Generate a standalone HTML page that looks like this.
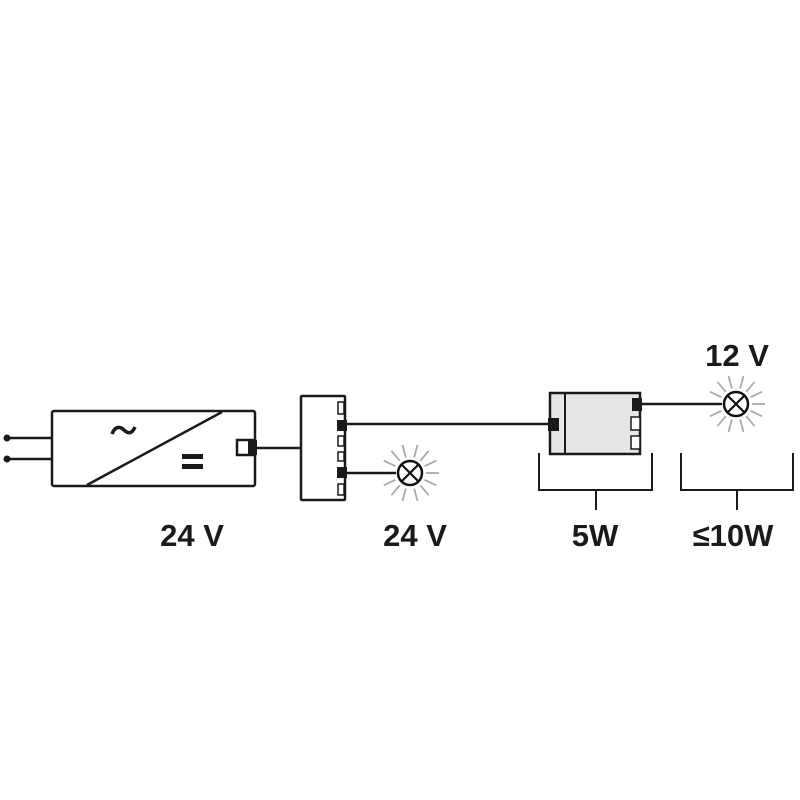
<!DOCTYPE html>
<html><head><style>body{margin:0;background:#fff}svg{display:block}</style></head>
<body>
<svg width="800" height="800" viewBox="0 0 800 800" xmlns="http://www.w3.org/2000/svg">
<defs>
<g id="lamp">
 <g stroke="#aaa" stroke-width="1.8">
  <line x1="16" y1="0" x2="29" y2="0" transform="rotate(0)"/>
  <line x1="16" y1="0" x2="29" y2="0" transform="rotate(25)"/>
  <line x1="16" y1="0" x2="29" y2="0" transform="rotate(50)"/>
  <line x1="16" y1="0" x2="29" y2="0" transform="rotate(75)"/>
  <line x1="16" y1="0" x2="29" y2="0" transform="rotate(105)"/>
  <line x1="16" y1="0" x2="29" y2="0" transform="rotate(130)"/>
  <line x1="16" y1="0" x2="29" y2="0" transform="rotate(155)"/>
  <line x1="16" y1="0" x2="29" y2="0" transform="rotate(205)"/>
  <line x1="16" y1="0" x2="29" y2="0" transform="rotate(230)"/>
  <line x1="16" y1="0" x2="29" y2="0" transform="rotate(255)"/>
  <line x1="16" y1="0" x2="29" y2="0" transform="rotate(285)"/>
  <line x1="16" y1="0" x2="29" y2="0" transform="rotate(310)"/>
  <line x1="16" y1="0" x2="29" y2="0" transform="rotate(335)"/>
 </g>
 <circle r="12" fill="#fff" stroke="#111" stroke-width="2.5"/>
 <line x1="-8.5" y1="-8.5" x2="8.5" y2="8.5" stroke="#111" stroke-width="2.2"/>
 <line x1="-8.5" y1="8.5" x2="8.5" y2="-8.5" stroke="#111" stroke-width="2.2"/>
</g>
</defs>
<g stroke="#1a1a1a" fill="none" stroke-width="2.5">
 <line x1="7" y1="438" x2="52" y2="438"/>
 <line x1="7" y1="459" x2="52" y2="459"/>
 <rect x="52" y="411" width="203" height="75" rx="2"/>
 <line x1="222" y1="412" x2="87" y2="485"/>
 <rect x="237" y="440" width="18" height="15" fill="#fff"/>
 <line x1="257" y1="448" x2="301" y2="448"/>
 <rect x="301" y="396" width="44" height="104" rx="1"/>
 <line x1="345" y1="424" x2="552" y2="424"/>
 <line x1="345" y1="473" x2="396" y2="473"/>
 <rect x="550" y="393" width="90" height="61" fill="#e6e6e6"/>
 <line x1="565" y1="393" x2="565" y2="454" stroke-width="2"/>
 <line x1="641" y1="404" x2="722" y2="404"/>
 <polyline points="539,453 539,490 652,490 652,453" stroke-width="2"/>
 <line x1="596" y1="490" x2="596" y2="510" stroke-width="2"/>
 <polyline points="681,453 681,490 793,490 793,453" stroke-width="2"/>
 <line x1="737" y1="490" x2="737" y2="510" stroke-width="2"/>
 <path d="M112,434 C115,426 120,426 124,430 C128,434 132,434 135,427" stroke-width="3.5"/>
</g>
<g fill="#1a1a1a">
 <circle cx="7" cy="438" r="3.5"/>
 <circle cx="7" cy="459" r="3.5"/>
 <rect x="248" y="440" width="9" height="15"/>
 <rect x="182" y="454" width="21" height="5"/>
 <rect x="182" y="464" width="21" height="5"/>
 <rect x="337" y="420" width="10" height="11"/>
 <rect x="337" y="467" width="10" height="11"/>
 <rect x="548" y="418" width="11" height="13"/>
 <rect x="632" y="398" width="10" height="13"/>
</g>
<g fill="#fff" stroke="#1a1a1a" stroke-width="1.5">
 <rect x="338" y="402" width="6" height="12"/>
 <rect x="338" y="436" width="6" height="10"/>
 <rect x="338" y="452" width="6" height="9"/>
 <rect x="338" y="484" width="6" height="11"/>
 <rect x="631" y="417" width="9" height="13"/>
 <rect x="631" y="436" width="9" height="13"/>
</g>
<use href="#lamp" x="410" y="473"/>
<use href="#lamp" x="736" y="404"/>
<g font-family="Liberation Sans, sans-serif" font-weight="bold" font-size="31" fill="#1a1a1a" text-anchor="middle">
 <text x="192" y="546">24 V</text>
 <text x="415" y="546">24 V</text>
 <text x="595" y="546">5W</text>
 <text x="733" y="546">≤10W</text>
 <text x="737" y="366">12 V</text>
</g>
</svg>
</body></html>
